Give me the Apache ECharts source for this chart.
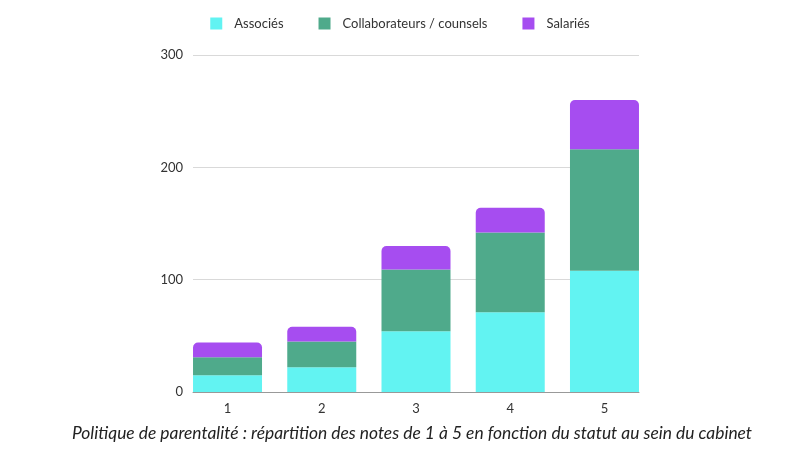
<!DOCTYPE html>
<html><head><meta charset="utf-8">
<script src="https://cdn.jsdelivr.net/npm/echarts@6/dist/echarts.min.js"></script>
<style>html,body{margin:0;padding:0;background:#fff}#c{width:800px;height:450px}</style>
</head><body><div id="c"></div>
<script>
const categories = ['1', '2', '3', '4', '5'];
const associes = [15, 22, 54, 71, 108];
const collaborateurs = [16, 23, 55, 71, 108];
const salaries = [13, 13, 21, 22, 44];
const seriesNames = ['Associés', 'Collaborateurs / counsels', 'Salariés'];
const yTicks = [0, 100, 200, 300];
const titleText = 'Politique de parentalité : répartition des notes de 1 à 5 en fonction du statut au sein du cabinet';

const colors = ['#62F3F2', '#4FAA8B', '#A64DF0'];
const font = 'Lato';
const chart = echarts.init(document.getElementById('c'), null, {renderer: 'canvas'});
const values = [associes, collaborateurs, salaries];
chart.setOption({
  animation: false,
  color: colors,
  title: {
    text: titleText, left: 72, top: 425, padding: 0,
    textStyle: {fontFamily: font, fontStyle: 'italic', fontWeight: 'normal', fontSize: 17.4, color: '#222'}
  },
  legend: {
    top: 12, left: 'center', itemWidth: 12, itemHeight: 12, itemGap: 35,
    icon: 'rect',
    data: seriesNames,
    textStyle: {fontFamily: font, fontSize: 13, color: '#333', padding: [0, 0, 0, 7]}
  },
  grid: [
    {left: 193, right: 161, top: 55, bottom: 58},
    {left: 180.4, right: 148.4, top: 55, bottom: 58}
  ],
  xAxis: [
    {gridIndex: 0, type: 'category', data: categories, axisLine: {lineStyle: {color: '#999'}}, axisTick: {show: false}, axisLabel: {show: false}},
    {gridIndex: 1, type: 'category', data: categories, axisLine: {show: false}, axisTick: {show: false},
     axisLabel: {fontFamily: font, fontSize: 13, color: '#333', margin: 10}}
  ],
  yAxis: [
    {gridIndex: 0, type: 'value', min: yTicks[0], max: yTicks[yTicks.length - 1], interval: 100,
     axisLine: {show: false}, axisTick: {show: false},
     axisLabel: {fontFamily: font, fontSize: 13, color: '#333', margin: 10},
     splitLine: {lineStyle: {color: '#d9d9d9'}}},
    {gridIndex: 1, type: 'value', min: yTicks[0], max: yTicks[yTicks.length - 1], interval: 100, show: false}
  ],
  series: seriesNames.map((n, i) => ({
    name: n, type: 'bar', stack: 'total', xAxisIndex: 1, yAxisIndex: 1,
    barWidth: 69, data: values[i],
    itemStyle: {color: colors[i], borderRadius: i === 2 ? [5, 5, 0, 0] : 0}
  }))
});
</script></body></html>
